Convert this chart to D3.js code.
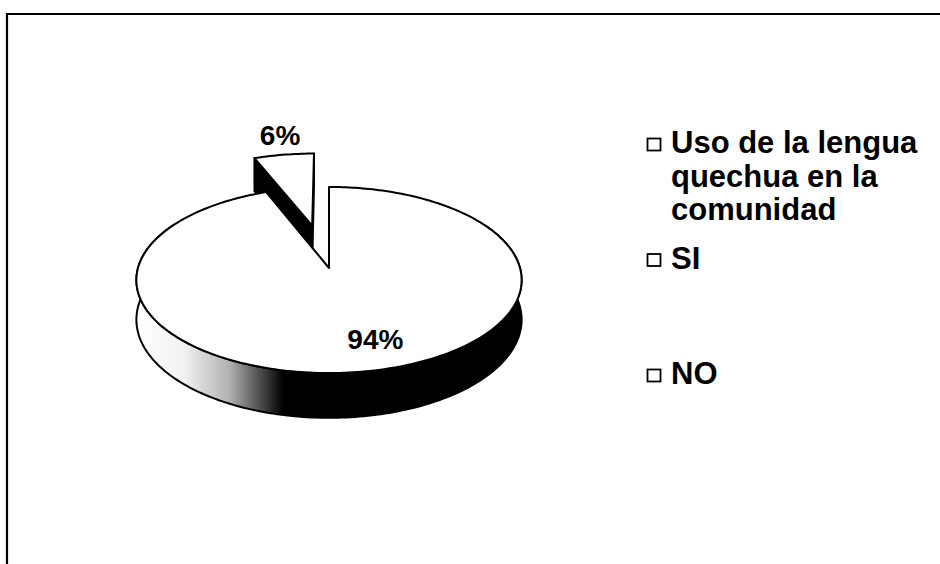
<!DOCTYPE html>
<html>
<head>
<meta charset="utf-8">
<script src="https://cdn.jsdelivr.net/npm/d3@7"></script>
<style>
  html, body { margin: 0; padding: 0; background: #fff; }
  text { font-family: "Liberation Sans", Arial, sans-serif; font-weight: bold; fill: #000; }
</style>
</head>
<body>
<div id="app"></div>
<script>
const container = document.querySelector('#app');

// chart data
const categories = ["SI", "NO"];
const values = [94, 6];
const legendLabels = [["Uso de la lengua", "quechua en la", "comunidad"], ["SI"], ["NO"]];

const width = 940;
const height = 564;

// 3d pie geometry (simple perspective projection of a disk)
const cx = 329, cy = 268;
const rx = 191, ry = 91.5;
const depth = 39;
const persp = 0.129;
const explodeBy = { NO: 0.5 };

const svg = d3.create("svg")
    .attr("width", width)
    .attr("height", height);

const defs = svg.append("defs");
const grad = defs.append("linearGradient")
    .attr("id", "rimGrad")
    .attr("gradientUnits", "userSpaceOnUse")
    .attr("x1", cx - rx).attr("x2", cx + rx)
    .attr("y1", 0).attr("y2", 0);
[[0, "#fff"], [0.12, "#f2f2f2"], [0.24, "#b0b0b0"], [0.33, "#404040"], [0.38, "#000"], [1, "#000"]]
  .forEach(([o, c]) => grad.append("stop").attr("offset", o).attr("stop-color", c));

// frame (only top and left edges visible in the scan)
svg.append("path")
    .attr("d", `M7,${height} L7,14 L${width},14`)
    .attr("fill", "none")
    .attr("stroke", "#000")
    .attr("stroke-width", 2.2);

function proj(u, v, z) {
  const w = 1 - persp * v;
  return [cx + rx * u / w, cy + (ry * v + depth * z) / w];
}
function pt(a, r, z, off) {
  return proj(r * Math.sin(a) + off[0], -r * Math.cos(a) + off[1], z);
}
function arcPts(a0, a1, z, off) {
  const n = Math.max(2, Math.ceil(Math.abs(a1 - a0) / 0.02));
  return d3.range(n + 1).map(i => pt(a0 + (a1 - a0) * i / n, 1, z, off));
}

const pie = d3.pie().sort(null).value(d => d)(values);
const slices = pie.map((p, i) => {
  const mid = (p.startAngle + p.endAngle) / 2;
  const k = explodeBy[categories[i]] || 0;
  return { ...p, name: categories[i], mid, off: [k * Math.sin(mid), -k * Math.cos(mid)] };
});

const line = d3.line();
const stroke = { stroke: "#000", "stroke-width": 2, "stroke-linejoin": "round" };
function draw(g, pts, fill) {
  const p = g.append("path").attr("d", line(pts) + "Z").attr("fill", fill);
  Object.entries(stroke).forEach(([k, v]) => p.attr(k, v));
}

// back slices first (exploded one sits behind)
const order = slices.slice().sort((a, b) => Math.cos(b.mid) - Math.cos(a.mid));
order.forEach(s => {
  const g = svg.append("g");
  const o = s.off;
  const c0 = proj(o[0], o[1], 0), c1 = proj(o[0], o[1], 1);
  // start cut face, visible when it turns toward the viewer
  if (-Math.sin(s.startAngle) > 0.01) {
    draw(g, [c0, pt(s.startAngle, 1, 0, o), pt(s.startAngle, 1, 1, o), c1], "#000");
  }
  if (Math.sin(s.endAngle) > -0.01 && s.endAngle - s.startAngle < Math.PI) {
    draw(g, [c0, pt(s.endAngle, 1, 0, o), pt(s.endAngle, 1, 1, o), c1], "#fff");
  }
  // outer rim, front part only
  const r0 = Math.max(s.startAngle, Math.PI / 3), r1 = Math.min(s.endAngle, Math.PI * 5 / 3);
  if (r1 > r0) {
    draw(g, arcPts(r0, r1, 0, o).concat(arcPts(r1, r0, 1, o)), "url(#rimGrad)");
  }
  // top face
  draw(g, [c0].concat(arcPts(s.startAngle, s.endAngle, 0, o)), "#fff");
});

// percentage labels
const total = d3.sum(values);
const labelPos = { SI: { r: 0.72, dx: 18 }, NO: { r: 1.32, dx: 4 } };
slices.forEach(s => {
  const lp = labelPos[s.name];
  const [x, y] = pt(s.mid, lp.r, 0, s.off);
  svg.append("text")
      .attr("x", x + lp.dx)
      .attr("y", y)
      .attr("dy", "0.36em")
      .attr("text-anchor", "middle")
      .attr("font-size", 28)
      .text(d3.format(".0%")(s.value / total));
});

// legend
const legendY = d3.scalePoint().domain(d3.range(legendLabels.length)).range([153, 384]);
legendLabels.forEach((lines, i) => {
  const y = legendY(i);
  svg.append("rect")
      .attr("x", 647.5).attr("y", y - 14.5)
      .attr("width", 13).attr("height", 12)
      .attr("fill", "#fff")
      .attr("stroke", "#000")
      .attr("stroke-width", 1.8);
  const t = svg.append("text")
      .attr("x", 671)
      .attr("y", y)
      .attr("font-size", 31);
  lines.forEach((l, j) => {
    t.append("tspan").attr("x", 671).attr("dy", j ? 33.5 : 0).text(l);
  });
});

container.append(svg.node());
</script>
</body>
</html>
